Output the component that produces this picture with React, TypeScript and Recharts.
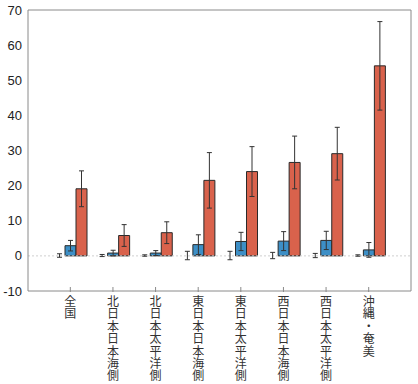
import { BarChart, Bar, XAxis, YAxis, ErrorBar, ReferenceLine } from 'recharts';

const regions = [
  '全国',
  '北日本日本海側',
  '北日本太平洋側',
  '東日本日本海側',
  '東日本太平洋側',
  '西日本日本海側',
  '西日本太平洋側',
  '沖縄・奄美',
];

// three series per region, each with a symmetric error
const seriesA = [0.1, 0.1, 0.1, 0.1, 0.1, 0.1, 0.1, 0.1];
const seriesAErr = [0.5, 0.3, 0.2, 1.2, 1.2, 0.9, 0.6, 0.2];
const seriesB = [2.9, 0.8, 0.8, 3.2, 4.1, 4.2, 4.4, 1.7];
const seriesBErr = [1.5, 0.8, 0.7, 2.8, 2.6, 2.7, 2.6, 2.1];
const seriesC = [19.1, 5.8, 6.6, 21.5, 24.0, 26.6, 29.1, 54.1];
const seriesCErr = [5.1, 3.1, 3.1, 7.9, 7.1, 7.5, 7.5, 12.6];

const yTicks = [-10, 0, 10, 20, 30, 40, 50, 60, 70];

const data = regions.map((name, i) => ({
  name,
  a: seriesA[i],
  aErr: seriesAErr[i],
  b: seriesB[i],
  bErr: seriesBErr[i],
  c: seriesC[i],
  cErr: seriesCErr[i],
}));

const AXIS = '#8a8a8a';
const ERR = '#333';

// category labels are stacked one character per line
const VerticalTick = (props: any) => {
  const { x, y, payload } = props;
  const chars = Array.from(String(payload.value));
  return (
    <g>
      <line x1={x} x2={x} y1={y - 4} y2={y + 1} stroke={AXIS} />
      {chars.map((ch, i) => (
        <text
          key={i}
          x={x}
          y={y + 15 + i * 12.4}
          textAnchor="middle"
          fontSize={12}
          fill="#333"
          fontFamily="Noto Sans CJK JP, sans-serif"
        >
          {ch}
        </text>
      ))}
    </g>
  );
};

export default function App() {
  return (
    <div style={{ position: 'absolute', left: 0, top: 0, background: '#fff' }}>
      <BarChart
        width={418}
        height={384}
        data={data}
        margin={{ top: 9, right: 6, bottom: 0, left: 0 }}
        barSize={11}
        barGap={0}
        style={{ fontFamily: 'Liberation Sans, Arial, sans-serif' }}
      >
        <XAxis
          dataKey="name"
          interval={0}
          height={93}
          tickSize={0}
          tickMargin={0}
          tickLine={false}
          stroke={AXIS}
          padding={{ left: 21, right: 21 }}
          tick={<VerticalTick />}
        />
        <XAxis xAxisId="top" orientation="top" dataKey="name" height={1} tick={false} tickLine={false} stroke={AXIS} />
        <YAxis
          domain={[-10, 70]}
          ticks={yTicks}
          width={28}
          tickSize={0}
          tickMargin={6}
          tickLine={false}
          stroke={AXIS}
          tick={{ fontSize: 13, fill: '#222' }}
        />
        <YAxis yAxisId="right" orientation="right" domain={[-10, 70]} width={1} tick={false} tickLine={false} stroke={AXIS} />
        <ReferenceLine y={0} stroke="#cfcfcf" strokeDasharray="2 2" />
        <Bar dataKey="a" fill="none" stroke="none" isAnimationActive={false}>
          <ErrorBar dataKey="aErr" width={2.5} stroke={ERR} strokeWidth={1} isAnimationActive={false} />
        </Bar>
        <Bar dataKey="b" fill="#3d8fc6" stroke="#2a2a2a" strokeWidth={1} isAnimationActive={false}>
          <ErrorBar dataKey="bErr" width={2.5} stroke={ERR} strokeWidth={1} isAnimationActive={false} />
        </Bar>
        <Bar dataKey="c" fill="#d9624c" stroke="#2a2a2a" strokeWidth={1} isAnimationActive={false}>
          <ErrorBar dataKey="cErr" width={2.5} stroke={ERR} strokeWidth={1} isAnimationActive={false} />
        </Bar>
      </BarChart>
    </div>
  );
}
